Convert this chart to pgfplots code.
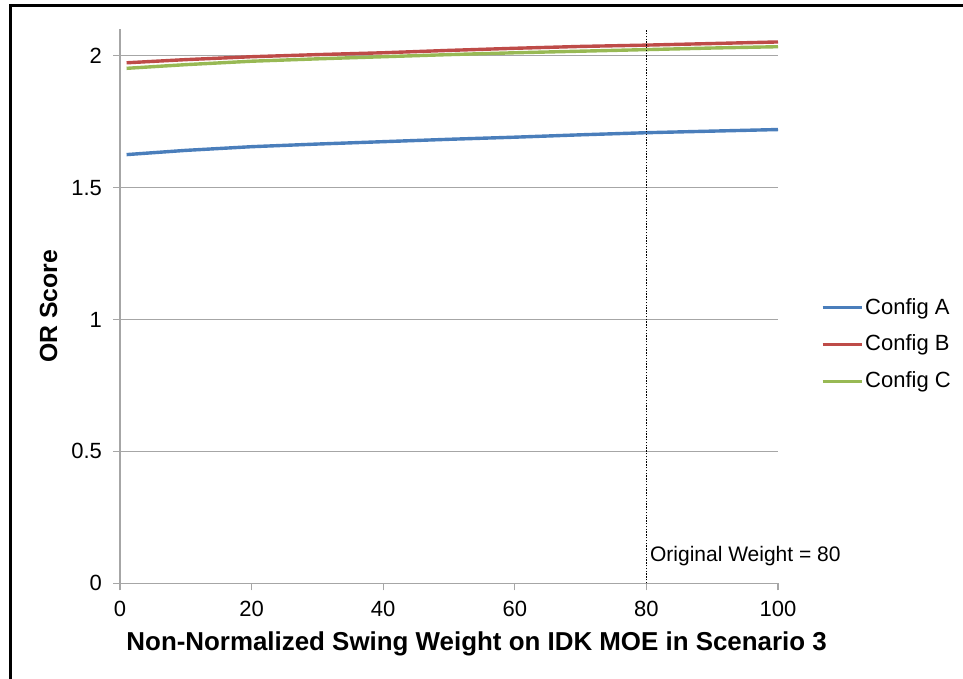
\documentclass[border=0pt]{standalone}
\usepackage{fontspec}
\setmainfont{Liberation Sans}
\usepackage{pgfplots}
\pgfplotsset{compat=1.18}
\definecolor{cA}{HTML}{4A7EBB}
\definecolor{cB}{HTML}{BE4B48}
\definecolor{cC}{HTML}{98B954}
\definecolor{gridc}{HTML}{A6A6A6}
\begin{document}
\begin{tikzpicture}
\useasboundingbox (0,0) rectangle (481.5pt,339.5pt);
\fill[white] (0,0) rectangle (481.5pt,339.5pt);
\draw[line width=1.6pt] (5.3pt,0) -- (5.3pt,336.6pt) -- (481.5pt,336.6pt);
\begin{axis}[
  at={(60pt,47.85pt)}, anchor=south west,
  scale only axis, width=329pt, height=277pt,
  xmin=0, xmax=100, ymin=0, ymax=2.1,
  xtick={0,20,...,100}, ytick={0,0.5,1,1.5,2},
  axis x line*=bottom, axis y line*=left,
  axis line style={gridc, line width=0.6pt, -},
  tick align=outside, major tick length=3.5pt,
  tick style={gridc, line width=0.6pt},
  ymajorgrids, grid style={gridc, line width=0.6pt},
  /pgf/number format/assume math mode=true,
  tick label style={font=\fontsize{11}{13}\selectfont, black},
  xticklabel style={yshift=-2pt},
  yticklabel style={xshift=-2pt},
  xlabel={Non-Normalized Swing Weight on IDK MOE in Scenario 3},
  ylabel={OR Score},
  every axis x label/.style={at={(axis description cs:0.542,-0.1222)}, anchor=base,
    font=\fontsize{12.95}{15}\selectfont\bfseries},
  every axis y label/.style={at={(axis description cs:-0.1085,0.5)}, rotate=90, anchor=center,
    font=\fontsize{12.4}{14}\selectfont\bfseries},
  legend style={draw=none, fill=none, at={(axis description cs:1.065,0.431)}, anchor=west,
    font=\fontsize{11}{13}\selectfont, row sep=6.9pt, inner sep=0pt,
    nodes={inner sep=1pt}},
  legend cell align=left,
  legend image code/.code={\draw[#1, line width=1.5pt] (0pt,0pt) -- (19.5pt,0pt);},
  clip=false,
]
\addplot[cA, line width=1.7pt] coordinates {(1,1.625) (10,1.641) (20,1.655) (30,1.665) (40,1.674) (50,1.683) (60,1.691) (70,1.700) (80,1.708) (90,1.714) (100,1.720)};
\addlegendentry{Config A}
\addplot[cB, line width=1.7pt] coordinates {(1,1.973) (10,1.985) (20,1.996) (30,2.004) (40,2.011) (50,2.020) (60,2.028) (70,2.035) (80,2.040) (90,2.046) (100,2.052)};
\addlegendentry{Config B}
\addplot[cC, line width=1.7pt] coordinates {(1,1.952) (10,1.966) (20,1.979) (30,1.988) (40,1.996) (50,2.004) (60,2.011) (70,2.017) (80,2.023) (90,2.029) (100,2.034)};
\addlegendentry{Config C}
\addplot[black, line width=0.8pt, dash pattern=on 0.7pt off 0.7pt, forget plot] coordinates {(80,0) (80,2.1)};
\node[anchor=base west, inner sep=0pt, font=\fontsize{10.5}{12}\selectfont] at (axis cs:80.5,0.081) {Original Weight = 80};
\end{axis}
\end{tikzpicture}
\end{document}
